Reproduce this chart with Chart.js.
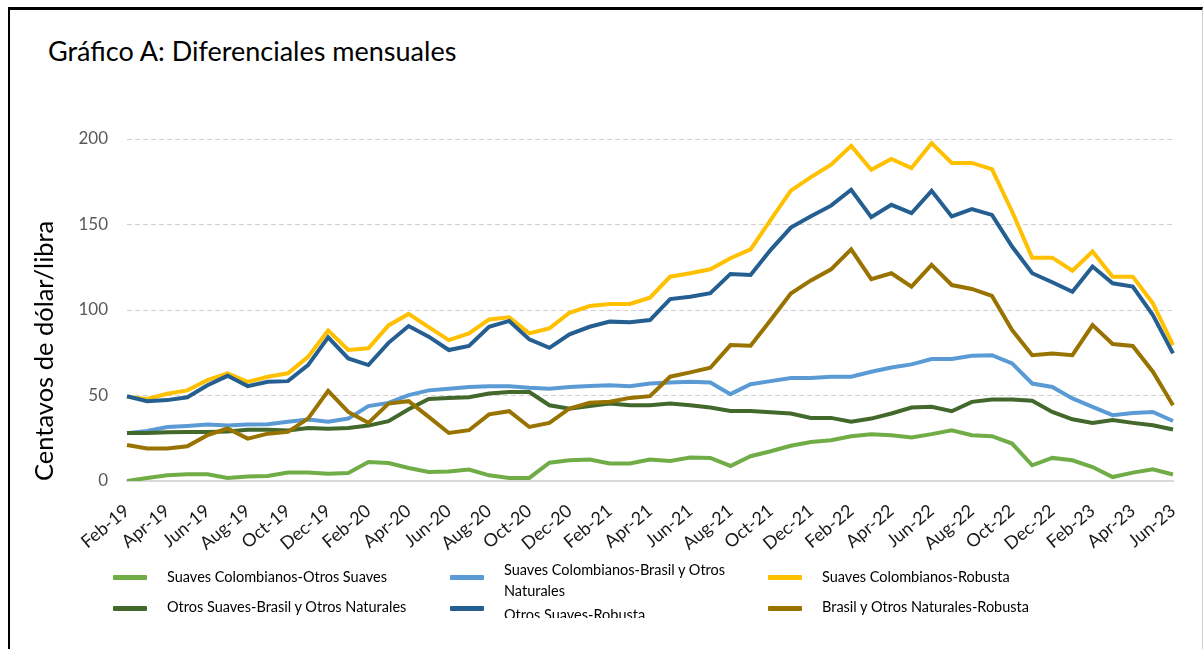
<!DOCTYPE html>
<html>
<head>
<meta charset="utf-8">
<script src="https://cdn.jsdelivr.net/npm/chart.js@4"></script>
<style>
  body { margin: 0; background: #fff; font-family: Lato, "Open Sans", sans-serif; }
  #page { position: relative; width: 1203px; height: 649px; overflow: hidden; }
  #frame {
    position: absolute; left: 8px; top: 7px; width: 1192px; height: 700px;
    border-top: 3px solid #000; border-left: 2px solid #000; border-right: 1px solid #d0d0d0;
  }
  #title { position: absolute; left: 48px; top: 34px; font-size: 27px; color: #000; white-space: nowrap; }
  #chartBox { position: absolute; left: 0; top: 0; width: 1203px; height: 560px; }
  #legend { position: absolute; left: 0; top: 0; width: 1203px; height: 618px; overflow: hidden; pointer-events: none; }
  .swatch { position: absolute; width: 34px; height: 5px; border-radius: 1px; }
  .label { position: absolute; font-size: 14.5px; line-height: 21px; color: #000; }
</style>
</head>
<body>
<div id="page">
  <div id="frame"></div>
  <div id="title">Gráfico A: Diferenciales mensuales</div>
  <div id="chartBox"><canvas id="chart" width="1203" height="560"></canvas></div>
  <div id="legend"></div>
</div>
<script>
// Months Feb-19 .. Jun-23
const months = [
  "Feb-19","Mar-19","Apr-19","May-19","Jun-19","Jul-19","Aug-19","Sep-19","Oct-19","Nov-19","Dec-19",
  "Jan-20","Feb-20","Mar-20","Apr-20","May-20","Jun-20","Jul-20","Aug-20","Sep-20","Oct-20","Nov-20","Dec-20",
  "Jan-21","Feb-21","Mar-21","Apr-21","May-21","Jun-21","Jul-21","Aug-21","Sep-21","Oct-21","Nov-21","Dec-21",
  "Jan-22","Feb-22","Mar-22","Apr-22","May-22","Jun-22","Jul-22","Aug-22","Sep-22","Oct-22","Nov-22","Dec-22",
  "Jan-23","Feb-23","Mar-23","Apr-23","May-23","Jun-23"
];

const yTicks = [0, 50, 100, 150, 200];

const seriesNames = [
  "Suaves Colombianos-Otros Suaves",
  "Suaves Colombianos-Brasil y Otros Naturales",
  "Suaves Colombianos-Robusta",
  "Otros Suaves-Brasil y Otros Naturales",
  "Otros Suaves-Robusta",
  "Brasil y Otros Naturales-Robusta"
];

const suavesOtros = [0, 1.8, 3.3, 3.9, 3.9, 1.8, 2.7, 2.9, 4.9, 4.9, 4.3, 4.7, 11.1, 10.5, 7.6, 5.3, 5.6, 6.7, 3.3, 1.8, 1.8,
  10.7, 12.1, 12.5, 10.2, 10.2, 12.5, 11.7, 13.7, 13.5, 8.8, 14.5, 17.4, 20.6, 22.8, 23.8, 26.2, 27.4, 26.8, 25.4, 27.4,
  29.7, 26.8, 26.2, 21.9, 9.2, 13.5, 12.1, 8.2, 2.3, 4.9, 6.9, 3.8];

const suavesBrasil = [28, 29.3, 31.6, 32.2, 33, 32.4, 33, 33.2, 34.6, 36, 34.6, 36.5, 43.8, 45.7, 50.2, 53, 54, 55, 55.4, 55.4, 54.5,
  54, 55, 55.6, 56, 55.4, 57, 57.6, 58, 57.6, 50.8, 56.6, 58.4, 60.2, 60.3, 61, 61, 63.9, 66.4, 68.2, 71.3,
  71.3, 73.2, 73.6, 68.8, 57, 55, 48.3, 43.4, 38.5, 39.8, 40.4, 35.1];

const suavesRobusta = [49.2, 48, 51, 53, 59, 63, 58, 61, 63, 72.6, 88, 76.6, 77.6, 91, 97.7, 90, 82.4, 86.3, 94.5, 95.7, 86.3,
  89.3, 98.4, 102.3, 103.5, 103.5, 107.2, 119.5, 121.5, 123.8, 130.3, 135.5, 152.7, 169.8, 177.7, 185, 196, 182, 188.3, 183, 197.6,
  186, 186, 182.4, 157.6, 130.6, 130.6, 123, 134.2, 119.5, 119.5, 103.9, 79.5];

const otrosBrasil = [28, 28, 28.5, 28.7, 28.7, 29, 30, 30, 29.5, 31, 30.5, 31, 32.4, 35, 42, 48, 48.5, 49, 51.2, 52.1, 52,
  44.3, 42.2, 43.8, 45.3, 44.3, 44.3, 45.3, 44.3, 43, 41, 41, 40.2, 39.5, 36.9, 36.9, 34.6, 36.5, 39.5, 43, 43.4,
  40.8, 46.3, 47.7, 47.7, 46.9, 40.4, 36.1, 34, 35.6, 34, 32.6, 30.1];

const otrosRobusta = [49.6, 46.7, 47.3, 49, 56, 61.5, 55.5, 58, 58.4, 67.8, 84, 71.7, 67.8, 80.8, 90.6, 84.4, 76.6, 79, 90.2, 93.6, 82.8,
  77.9, 85.8, 90.2, 93.2, 92.8, 94.1, 106.4, 107.8, 109.8, 121.1, 120.5, 135.2, 148.2, 154.8, 161, 170.3, 154.3, 161.5, 156.6, 169.7,
  154.7, 159, 155.6, 137.1, 121.5, 116.2, 110.7, 125.4, 115.6, 113.7, 97, 74.6];

const brasilRobusta = [21, 19, 19, 20.3, 26.8, 30.7, 24.8, 27.7, 28.7, 36.5, 52.7, 40.4, 34, 45.3, 46.7, 37.5, 28.1, 29.7, 39, 40.8, 31.6,
  34, 42.4, 45.7, 46.3, 48.6, 49.6, 61, 63.5, 66.2, 79.5, 79.1, 94.1, 109.6, 117.3, 123.8, 135.5, 118, 121.5, 113.7, 126.4,
  114.6, 112.3, 108.2, 88.3, 73.6, 74.6, 73.6, 91.2, 80.1, 79, 63.9, 44.3];

const seriesValues = [suavesOtros, suavesBrasil, suavesRobusta, otrosBrasil, otrosRobusta, brasilRobusta];
const colors = ["#70AD47", "#5B9BD5", "#FFC000", "#43682B", "#255E91", "#997300"];

const datasets = seriesNames.map((name, i) => ({
  label: name,
  data: seriesValues[i],
  borderColor: colors[i],
  backgroundColor: colors[i],
  borderWidth: 4,
  pointRadius: 0,
  tension: 0,
  order: seriesNames.length - i // later series on top, like Excel
}));

new Chart(document.getElementById("chart"), {
  type: "line",
  data: { labels: months, datasets: datasets },
  options: {
    responsive: false,
    animation: false,
    layout: { padding: { left: 0, top: 139, right: 30, bottom: 0 } },
    plugins: { legend: { display: false }, tooltip: { enabled: false } },
    scales: {
      x: {
        offset: false,
        grid: { display: false },
        border: { display: true, color: "#d9d9d9", width: 2 },
        ticks: {
          autoSkip: false,
          maxRotation: 40,
          minRotation: 40,
          padding: 11,
          color: "#1a1a1a",
          font: { family: "Lato", size: 18 },
          callback: (v, i) => (i % 2 === 0 ? months[i] : "")
        },
        afterFit: scale => { scale.height = 79; }
      },
      y: {
        min: 0,
        max: 200,
        afterBuildTicks: scale => { scale.ticks = yTicks.map(v => ({ value: v })); },
        grid: { color: "#d0d0d0", lineWidth: 1, drawTicks: false },
        border: { display: false, dash: [5, 3] },
        ticks: { padding: 19, color: "#595959", font: { family: "Lato", size: 17 } },
        title: {
          display: true,
          text: "Centavos de dólar/libra",
          align: "start",
          color: "#000",
          font: { family: "Lato", size: 25.5 },
          padding: { top: 29, bottom: 0 }
        },
        afterFit: scale => { scale.width = 127; }
      }
    }
  }
});

// Legend built from the series arrays (3 columns x 2 rows)
const legend = document.getElementById("legend");
const colX = [113, 450, 768];
const colTextWidth = [300, 235, 300];
const swatchY = [577, 608];
const textY = [576, 606];
const firstRowLines = [1, 1, 1];
seriesNames.forEach((name, i) => {
  const col = i % 3, row = Math.floor(i / 3);
  const sw = document.createElement("div");
  sw.className = "swatch";
  sw.style.background = colors[i];
  sw.style.left = colX[col] + "px";
  sw.style.top = (swatchY[row] - 2.5) + "px";
  legend.appendChild(sw);

  const lb = document.createElement("div");
  lb.className = "label";
  lb.textContent = name;
  lb.style.width = colTextWidth[col] + "px";
  lb.style.left = (colX[col] + 54) + "px";
  legend.appendChild(lb);
  const lines = Math.round(lb.offsetHeight / 21);
  if (row === 0) {
    firstRowLines[col] = lines;
    lb.style.top = (textY[0] - 10.5 - (lines - 1) * 7) + "px";
  } else {
    lb.style.top = (textY[1] - 10.5 + (firstRowLines[col] - 1) * 8) + "px";
  }
});
</script>
</body>
</html>
